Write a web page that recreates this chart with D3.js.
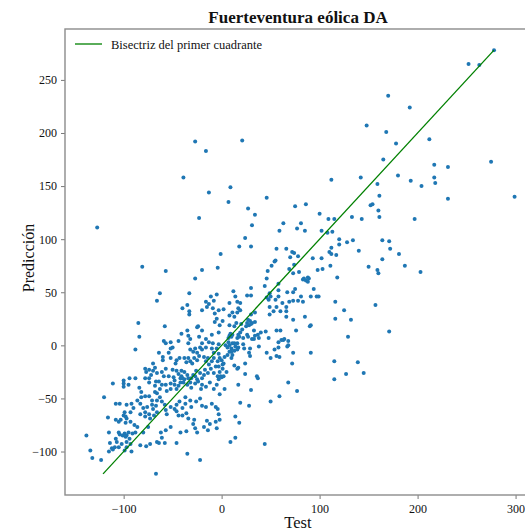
<!DOCTYPE html>
<html>
<head>
<meta charset="utf-8">
<script src="https://cdn.jsdelivr.net/npm/d3@7"></script>
<style>
  html, body { margin: 0; padding: 0; background: #fff; }
  svg { display: block; }
  text { font-family: "Liberation Serif", "Times New Roman", serif; fill: #111; }
</style>
</head>
<body>
<svg id="chart" width="525" height="531"></svg>
<script>
// Observed (test) vs predicted values, in pairs [test, prediccion]
const pairs = [
  [-27,192],[-16,183],[-39,158],
  [21,193],[148,207],[112,156],[142,158],[9,149],
  [278,278],[252,265],[263,264],[170,235],[192,224],[168,201],[178,190],[212,194],[165,175],[217,170],[231,168],[275,173],[180,160],[193,155],[217,158],[218,153],[159,152],
  [204,150],[161,141],[152,132],[154,133],[160,127],[161,121],[231,138],[299,140],[197,119],[164,99],[171,98],[172,91],[181,86],[164,81],[187,75],[159,71],[160,68],[203,69],[157,38],[171,13],
  [-13,144],[-127,111],[-23,120],[-1,86],[-81,74],[-57,70],[-20,71],[-4,73],[-27,63],[-63,49],[-33,49],[-66,42],[-11,46],[-5,48],[-16,41],[-13,39],[-8,42],[-35,38],[-40,35],[-15,36],[-9,35],[-33,32],[-33,29],[-20,33],[-3,33],[-7,30],[-5,25],[-7,22],[-85,21],[-58,18],[-24,18],[-25,17],[-35,14],[-20,14],[-41,11],[-34,9],[-23,8],[-10,10],[-3,12],[-84,8],[-16,6],[-32,6],
  [7,135],[46,139],[27,129],[34,123],[31,113],[75,131],[86,133],[100,124],[109,119],[115,119],[133,121],[143,119],[63,115],[81,115],[59,108],[77,110],[85,108],[102,108],[108,106],[113,107],[24,101],[18,93],[30,93],[56,91],[66,91],[72,88],[74,87],[55,80],[54,79],[70,83],[78,84],[74,76],[51,75],[47,70],[69,72],[73,68],[79,69],[93,82],[102,82],[110,88],[112,86],[117,85],[120,100],[128,97],[134,99],[120,95],[112,92],[140,89],[111,75],[103,72],[98,71],[150,74],[46,63],[83,62],[84,63],[86,61],[88,64],[89,63],[88,60],[118,64],[44,56],[58,58],[58,52],[75,53],[73,50],[67,50],[94,53],[30,54],[26,47],[30,47],[12,51],[14,46],[49,49],[46,45],[50,46],[48,43],[55,43],[58,46],[81,46],[91,46],[97,46],[99,46],[69,41],[73,42],[78,42],[83,41],[62,40],[49,36],[56,36],[66,36],[53,32],[49,29],[60,32],[66,27],[66,32],[73,24],[85,27],[91,19],[90,18],[116,41],[125,33],[116,25],[132,24],[129,8],[56,14],[60,14],[64,6],[76,14],[45,13],[48,7],[38,7],[37,10],[33,14],[34,9],[40,12],[34,31],[30,29],[27,24],[29,23],[31,21],[26,21],[28,19],[30,20],[25,18],[20,20],[21,15],[15,21],[13,18],[8,19],[8,28],[11,31],[13,27],[16,31],[19,33],[17,35],[19,40],[8,40],[16,41],[2,34],[1,23],[-2,19],[9,11],[8,9],[11,10],[7,7],[10,8],[17,10],[19,12],[16,7],[18,8],[22,7],[26,10],[27,8],[34,22],
  [-59,4],[-57,2],[-52,3],[-50,-2],[-52,-3],[-44,4],[-34,2],[-32,-4],[-27,-3],[-25,-7],[-29,-6],[-20,2],[-22,-2],[-20,-4],[-16,-2],[-13,3],[-9,2],[-10,-3],[-8,-7],[-5,-3],[-3,1],[-88,-4],[-64,-7],[-60,-11],[-60,-14],[-54,-7],[-52,-12],[-46,-14],[-47,-17],[-43,-12],[-38,-12],[-34,-12],[-36,-16],[-32,-15],[-30,-17],[-28,-12],[-25,-14],[-23,-10],[-18,-11],[-16,-15],[-14,-12],[-13,-18],[-10,-15],[-8,-12],[-6,-20],[-4,-15],
  [-78,-22],[-77,-25],[-74,-23],[-70,-17],[-68,-21],[-70,-24],[-66,-26],[-61,-25],[-57,-22],[-59,-29],[-54,-29],[-50,-23],[-49,-30],[-46,-24],[-44,-27],[-41,-24],[-41,-29],[-38,-25],[-35,-28],[-34,-31],[-31,-31],[-29,-28],[-42,-31],[-40,-31],[-38,-32],[-27,-29],[-26,-24],[-25,-32],[-22,-26],[-20,-31],[-18,-28],[-17,-23],[-14,-26],[-11,-22],[-8,-26],[-3,-20],[-2,-25],
  [-111,-36],[-100,-33],[-100,-39],[-94,-31],[-95,-37],[-100,-36],[-88,-31],[-84,-40],[-82,-44],[-78,-31],[-74,-31],[-72,-28],[-74,-35],[-67,-34],[-64,-34],[-68,-38],[-63,-41],[-66,-45],[-68,-44],[-61,-37],[-57,-37],[-56,-43],[-52,-36],[-52,-41],[-48,-33],[-48,-37],[-46,-41],[-44,-38],[-42,-35],[-39,-35],[-35,-37],[-32,-35],[-31,-40],[-27,-36],[-24,-34],[-20,-37],[-21,-41],[-16,-39],[-12,-35],[-8,-41],[-5,-37],
  [-120,-49],[-108,-55],[-104,-55],[-99,-63],[-100,-66],[-97,-69],[-98,-67],[-97,-56],[-92,-55],[-90,-59],[-93,-63],[-86,-52],[-82,-49],[-78,-48],[-74,-48],[-83,-55],[-80,-59],[-76,-58],[-78,-63],[-83,-65],[-71,-52],[-71,-56],[-70,-60],[-67,-57],[-66,-52],[-63,-49],[-61,-53],[-74,-65],[-78,-67],[-73,-69],[-69,-66],[-66,-63],[-58,-56],[-57,-61],[-56,-65],[-52,-58],[-48,-60],[-46,-56],[-46,-62],[-43,-53],[-40,-59],[-37,-55],[-37,-49],[-32,-52],[-31,-58],[-26,-53],[-22,-50],[-20,-57],[-16,-58],[-10,-55],[-6,-58],[-44,-66],[-40,-66],[-36,-64],[-34,-69],[-28,-70],[-15,-71],
  [-116,-68],[-108,-70],[-105,-72],[-103,-70],[-98,-73],[-93,-72],[-115,-82],[-105,-82],[-104,-84],[-101,-85],[-99,-83],[-98,-86],[-97,-85],[-95,-82],[-91,-83],[-88,-82],[-86,-77],[-89,-75],[-108,-88],[-114,-92],[-107,-91],[-112,-97],[-105,-96],[-102,-93],[-97,-91],[-94,-88],[-138,-85],[-134,-99],[-132,-106],[-123,-108],[-115,-100],[-111,-98],[-109,-96],[-99,-99],[-97,-96],[-92,-100],[-93,-93],[-83,-94],[-77,-95],[-73,-93],[-66,-91],[-64,-92],[-61,-87],[-58,-92],[-67,-121],[-46,-92],[-35,-102],[-22,-108],[-57,-80],[-52,-77],[-62,-82],[-42,-82],[-36,-81],[-29,-74],[-27,-78],[-25,-82],[-18,-77],[-14,-80],[-12,-74],[-6,-72],[-5,-78],[-80,-82],[-75,-77],
  [13,2],[16,2],[7,3],[4,0],[6,-2],[8,0],[11,2],[10,-3],[14,-1],[17,-2],[13,-5],[10,-6],[8,-6],[11,-9],[22,1],[23,-3],[16,-4],[6,-9],[10,-12],[3,-11],[0,-14],[-3,-8],[-2,-12],[31,6],[33,6],[29,-3],[28,-7],[29,-10],[38,-1],[46,-7],[50,-12],[54,-4],[58,3],[61,5],[63,5],[58,-2],[56,-10],[59,-11],[67,-1],[68,0],[68,4],[73,-7],[72,-17],[91,-7],[115,-15],[115,-32],[127,-27],[139,-16],[145,-26],[24,-17],[13,-19],[16,-22],[17,-21],[5,-25],[1,-18],[2,-17],[1,-22],[-4,-29],[-1,-29],[2,-29],[-3,-32],[0,-30],[24,-27],[36,-29],[37,-31],[17,-37],[3,-41],[-2,-46],[30,-42],[68,-35],[77,-43],[59,-48],[50,-53],[19,-54],[28,-57],[-4,-60],[-3,-65],[-2,-70],[14,-67],[18,-73],[9,-91],[14,-87],[44,-93]
];
const test = pairs.map(p => p[0]);
const prediccion = pairs.map(p => p[1]);

const titleText = "Fuerteventura eólica DA";
const xLabel = "Test";
const yLabel = "Predicción";
const legendLabel = "Bisectriz del primer cuadrante";
const xTicks = [-100, 0, 100, 200, 300];
const yTicks = [-100, -50, 0, 50, 100, 150, 200, 250];

const svg = d3.select("#chart");
const plot = { left: 65, top: 29, right: 536, bottom: 495 };

// 5% padding around the data range on both axes
function padded(ext) {
  const m = (ext[1] - ext[0]) * 0.05;
  return [ext[0] - m, ext[1] + m];
}
const x = d3.scaleLinear().domain(padded(d3.extent(test))).range([plot.left, plot.right]);
const y = d3.scaleLinear().domain(padded(d3.extent(prediccion))).range([plot.bottom, plot.top]);

const fmt = d3.format("d");
const spine = "#8c8c8c";

// axes
const xAxis = svg.append("g")
  .attr("transform", `translate(0,${plot.bottom})`)
  .call(d3.axisBottom(x).tickValues(xTicks).tickFormat(fmt).tickSize(4).tickPadding(5));
const yAxis = svg.append("g")
  .attr("transform", `translate(${plot.left},0)`)
  .call(d3.axisLeft(y).tickValues(yTicks).tickFormat(fmt).tickSize(4).tickPadding(4));
[xAxis, yAxis].forEach(g => {
  g.select(".domain").remove();
  g.selectAll(".tick line").attr("stroke", "#555").attr("stroke-width", 0.8);
  g.selectAll(".tick text")
    .style("font-family", "'Liberation Serif', serif")
    .style("font-size", "12px")
    .attr("fill", "#111");
});

// frame
svg.append("rect")
  .attr("x", plot.left).attr("y", plot.top)
  .attr("width", plot.right - plot.left).attr("height", plot.bottom - plot.top)
  .attr("fill", "none").attr("stroke", spine).attr("stroke-width", 1.4);

// points
svg.append("g").selectAll("circle")
  .data(pairs)
  .join("circle")
  .attr("cx", d => x(d[0]))
  .attr("cy", d => y(d[1]))
  .attr("r", 2)
  .attr("fill", "#1f77b4");

// y = x line across the range of predictions
const pe = d3.extent(prediccion);
svg.append("line")
  .attr("x1", x(pe[0])).attr("y1", y(pe[0]))
  .attr("x2", x(pe[1])).attr("y2", y(pe[1]))
  .attr("stroke", "#008000").attr("stroke-width", 1.3);

// legend
svg.append("line")
  .attr("x1", 75).attr("x2", 102).attr("y1", 44).attr("y2", 44)
  .attr("stroke", "#008000").attr("stroke-width", 1.3);
svg.append("text")
  .attr("x", 111).attr("y", 48.5)
  .style("font-size", "12.5px")
  .text(legendLabel);

// title and axis labels
svg.append("text")
  .attr("x", 298).attr("y", 23)
  .attr("text-anchor", "middle")
  .style("font-size", "17px").style("font-weight", "bold")
  .text(titleText);
svg.append("text")
  .attr("x", 298).attr("y", 528)
  .attr("text-anchor", "middle")
  .style("font-size", "16.5px")
  .text(xLabel);
svg.append("text")
  .attr("transform", "translate(34,258) rotate(-90)")
  .attr("text-anchor", "middle")
  .style("font-size", "16px")
  .text(yLabel);
</script>
</body>
</html>
